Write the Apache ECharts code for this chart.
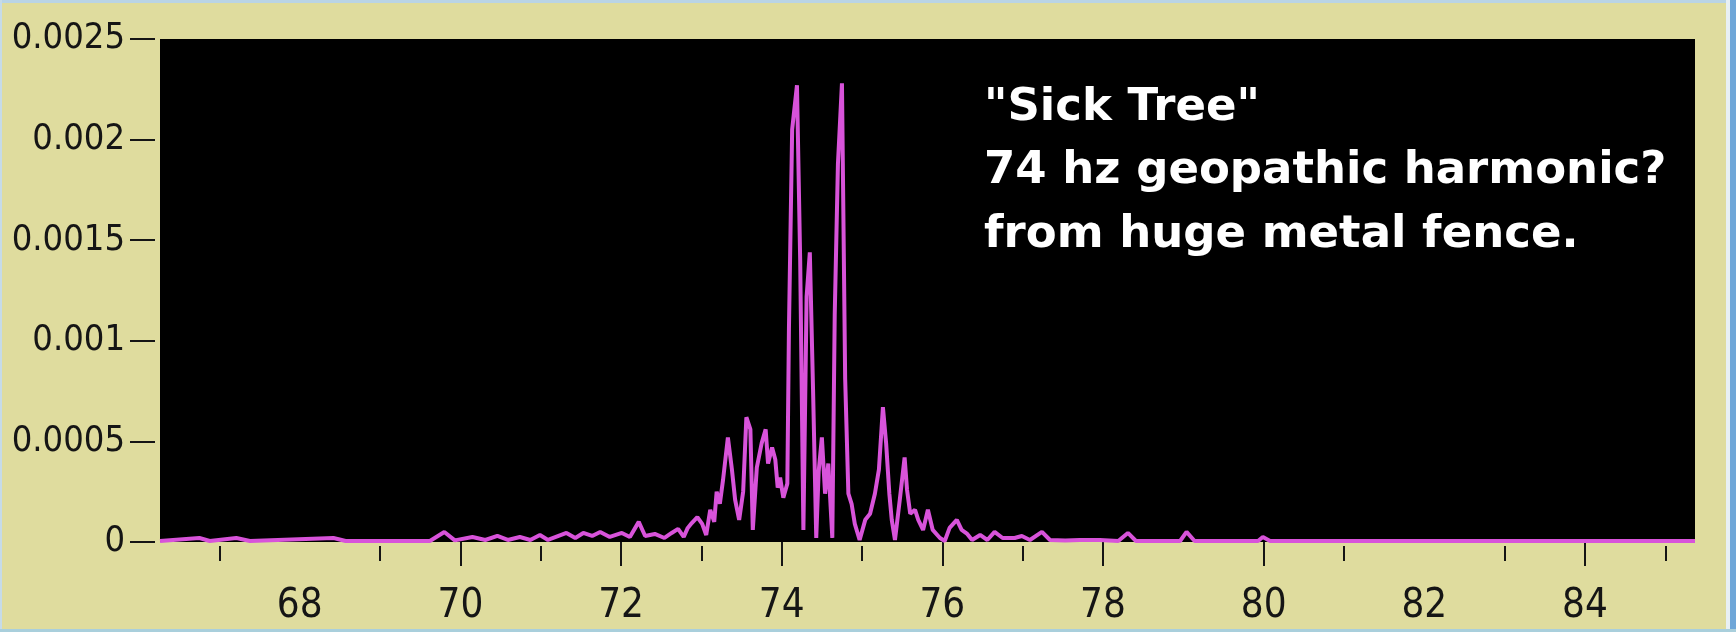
<!DOCTYPE html>
<html>
<head>
<meta charset="utf-8">
<script src="https://cdn.jsdelivr.net/npm/echarts@6/dist/echarts.min.js"></script>
<style>
html,body{margin:0;padding:0;background:#dfdc9e;}
#chart{width:1736px;height:632px;}
</style>
</head>
<body>
<div id="chart"></div>
<script>
// Frequency (Hz) of each trace vertex
const freq = [
  66.26, 66.75, 66.88, 67.21, 67.38, 68.42, 68.57, 69.62, 69.80, 69.93,
  70.15, 70.31, 70.46, 70.59, 70.74, 70.87, 70.99, 71.09, 71.32, 71.43,
  71.53, 71.64, 71.74, 71.86, 72.01, 72.11, 72.22, 72.30, 72.42, 72.54,
  72.63, 72.71, 72.78, 72.83, 72.88, 72.95, 73.01, 73.06, 73.11, 73.16,
  73.19, 73.23, 73.27, 73.33, 73.38, 73.42, 73.47, 73.52, 73.56, 73.61,
  73.64, 73.69, 73.75, 73.80, 73.83, 73.88, 73.92, 73.95, 73.98, 74.02,
  74.07, 74.09, 74.13, 74.19, 74.23, 74.27, 74.31, 74.35, 74.39, 74.43,
  74.46, 74.50, 74.54, 74.58, 74.63, 74.66, 74.70, 74.75, 74.79, 74.83,
  74.87, 74.91, 74.97, 75.04, 75.10, 75.16, 75.21, 75.26, 75.30, 75.34,
  75.37, 75.41, 75.47, 75.53, 75.56, 75.60, 75.66, 75.70, 75.76, 75.82,
  75.88, 75.97, 76.03, 76.09, 76.18, 76.24, 76.31, 76.37, 76.47, 76.56,
  76.65, 76.75, 76.90, 76.99, 77.09, 77.24, 77.34, 77.53, 77.71, 77.96,
  78.19, 78.31, 78.41, 78.96, 79.04, 79.14, 79.93, 79.99, 80.08, 85.37
];
// Amplitude at each vertex
const amplitude = [
  0.000005, 0.00002, 0.000005, 0.00002, 0.000005, 0.00002, 0.000005, 0.000005, 0.00005, 0.000008,
  0.000025, 0.00001, 0.00003, 0.00001, 0.000025, 0.00001, 0.000035, 0.00001, 0.000045, 0.00002,
  0.000045, 0.00003, 0.00005, 0.000025, 0.000045, 0.000025, 0.0001, 0.00003, 0.00004, 0.00002,
  0.000045, 0.000065, 0.000025, 0.00007, 0.000094, 0.000124, 0.00009, 0.000035, 0.00016, 0.0001,
  0.00025, 0.00019, 0.00031, 0.00052, 0.00036, 0.00021, 0.00011, 0.00025, 0.00062, 0.00056,
  0.00006, 0.00037, 0.00049, 0.00056, 0.00039, 0.00047, 0.00041, 0.00027, 0.00032, 0.00022,
  0.00029, 0.00106, 0.00205, 0.00227, 0.00140, 0.00006, 0.00122, 0.00144, 0.00076, 0.00002,
  0.00035, 0.00052, 0.00024, 0.00039, 0.00002, 0.00113, 0.00188, 0.00228, 0.00081, 0.00024,
  0.00019, 0.00009, 0.00001, 0.00011, 0.00014, 0.00024, 0.00036, 0.00067, 0.00049, 0.00024,
  0.00011, 0.00001, 0.00021, 0.00042, 0.00026, 0.00014, 0.00016, 0.00011, 0.00006, 0.00016,
  0.00006, 0.00002, 0.000005, 0.00007, 0.00011, 0.00006, 0.00004, 0.00001, 0.000035, 0.00001,
  0.00005, 0.00002, 0.00002, 0.00003, 0.00001, 0.00005, 0.00001, 0.000008, 0.00001, 0.00001,
  0.000005, 0.000045, 0.000005, 0.000005, 0.00005, 0.000005, 0.000005, 0.000025, 0.000005, 0.000005
];
const xLabelValues = [68, 70, 72, 74, 76, 78, 80, 82, 84];
const xMajorTickValues = [70, 72, 74, 76, 78, 80, 84];
const xMinorTickValues = [67, 69, 71, 73, 75, 77, 81, 83, 85];
const yTickValues = [0, 0.0005, 0.001, 0.0015, 0.002, 0.0025];
const yTickLabels = ['0', '0.0005', '0.001', '0.0015', '0.002', '0.0025'];
const noteLines = ['"Sick Tree"', '74 hz geopathic harmonic?', 'from huge metal fence.'];

const chart = echarts.init(document.getElementById('chart'), null, {renderer: 'canvas'});
const labelFont = '"Liberation Sans Narrow", "DejaVu Sans Condensed", "Liberation Sans", sans-serif';
const X_MIN = 66.26, X_MAX = 85.37;

const option = {
  animation: false,
  backgroundColor: '#dfdc9e',
  grid: {
    left: 160, top: 39, width: 1535, height: 503,
    show: true, backgroundColor: '#000000', borderWidth: 0
  },
  xAxis: [
    {
      type: 'value', min: X_MIN, max: X_MAX, offset: 4,
      axisLine: {show: false},
      splitLine: {show: false},
      axisTick: {show: true, customValues: xMajorTickValues, length: 24, lineStyle: {color: '#151515', width: 2}},
      axisLabel: {
        show: true, customValues: xLabelValues, margin: 41,
        color: '#151515', fontFamily: labelFont, fontSize: 40,
        formatter: v => String(v)
      }
    },
    {
      type: 'value', min: X_MIN, max: X_MAX, offset: 4, position: 'bottom',
      axisLine: {show: false},
      splitLine: {show: false},
      axisTick: {show: true, customValues: xMinorTickValues, length: 15, lineStyle: {color: '#151515', width: 2}},
      axisLabel: {show: false}
    }
  ],
  yAxis: {
    type: 'value', min: 0, max: 0.0025, interval: 0.0005, offset: 5,
    axisLine: {show: false},
    splitLine: {show: false},
    axisTick: {show: true, length: 25, lineStyle: {color: '#151515', width: 2}},
    axisLabel: {
      margin: 30, color: '#151515', fontFamily: labelFont, fontSize: 36,
      formatter: v => {
        const i = yTickValues.findIndex(t => Math.abs(t - v) < 1e-9);
        return i >= 0 ? yTickLabels[i] : '';
      }
    }
  },
  series: [{
    type: 'line',
    xAxisIndex: 0,
    data: freq.map((f, i) => [f, amplitude[i]]),
    showSymbol: false,
    clip: true,
    lineStyle: {color: '#d853da', width: 4},
    z: 3
  }],
  graphic: [
    {type: 'rect', shape: {x: 0, y: 0, width: 1736, height: 3}, style: {fill: '#b9d4e6'}, silent: true},
    {type: 'rect', shape: {x: 0, y: 0, width: 2, height: 632}, style: {fill: '#c6dbe8'}, silent: true},
    {type: 'rect', shape: {x: 1726, y: 0, width: 4, height: 632}, style: {fill: '#e8f0f4'}, silent: true},
    {type: 'rect', shape: {x: 1730, y: 0, width: 6, height: 632}, style: {fill: '#6ea6d8'}, silent: true},
    {type: 'rect', shape: {x: 0, y: 629, width: 1736, height: 3}, style: {fill: '#a9cfdc'}, silent: true},
    {type: 'text', left: 984, top: 86, z: 10, style: {text: noteLines[0], fill: '#ffffff', font: 'bold 45px "DejaVu Sans", sans-serif'}},
    {type: 'text', left: 984, top: 149, z: 10, style: {text: noteLines[1], fill: '#ffffff', font: 'bold 45px "DejaVu Sans", sans-serif'}},
    {type: 'text', left: 984, top: 213, z: 10, style: {text: noteLines[2], fill: '#ffffff', font: 'bold 45px "DejaVu Sans", sans-serif'}}
  ]
};
chart.setOption(option);
</script>
</body>
</html>
